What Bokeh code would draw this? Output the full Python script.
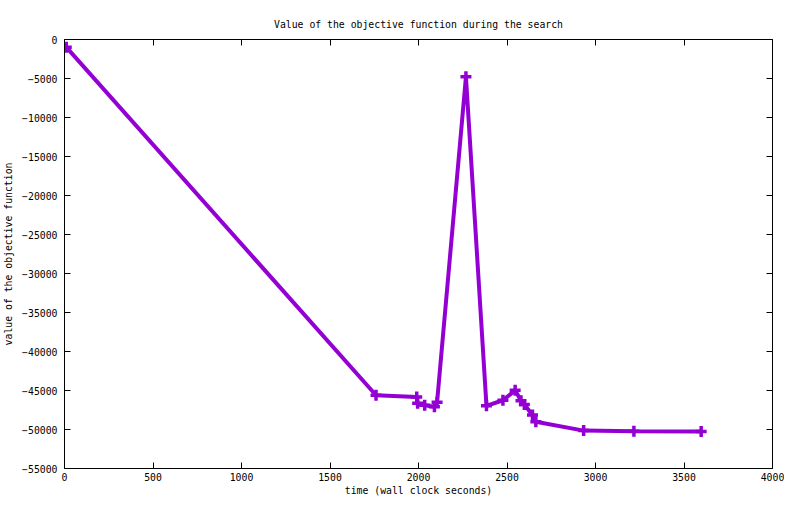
from bokeh.plotting import figure
from bokeh.models import (Range1d, LinearAxis, FixedTicker, ColumnDataSource,
                          CustomJSTickFormatter)
from bokeh.embed import file_html
from bokeh.resources import INLINE

# ---- data ----
time_s = [10, 1760, 1990, 1995, 2035, 2090, 2105, 2268, 2384, 2477, 2546,
          2579, 2598, 2644, 2663, 2933, 3217, 3597]
objective = [-980, -45610, -45830, -46650, -46880, -47090, -46500, -4790,
             -46970, -46250, -44980, -46300, -46800, -48150, -49000,
             -50140, -50230, -50270]
x_ticks = [0, 500, 1000, 1500, 2000, 2500, 3000, 3500, 4000]
y_ticks = [0, -5000, -10000, -15000, -20000, -25000, -30000, -35000,
           -40000, -45000, -50000, -55000]

FONT = "DejaVu Sans Mono"
FSIZE = "9.8px"
COLOR = "#9400D3"

src = ColumnDataSource(dict(x=time_s, y=objective))

p = figure(width=784, height=498, output_backend="svg", toolbar_location=None,
           x_range=Range1d(0, 4000), y_range=Range1d(-55000, 0),
           min_border_left=64, min_border_right=12, min_border_top=39,
           min_border_bottom=30)

p.title.text = "Value of the objective function during the search"
p.title.align = "center"
p.title.text_font = FONT
p.title.text_font_size = FSIZE
p.title.text_font_style = "normal"
p.title.text_color = "black"
p.title.standoff = 19

p.xgrid.visible = False
p.ygrid.visible = False
p.outline_line_color = None
p.background_fill_color = "white"
p.border_fill_color = "white"

def style_axis(ax, labels=True):
    ax.axis_line_color = "black"
    ax.axis_line_width = 1
    ax.major_tick_line_color = "black"
    ax.major_tick_in = 6
    ax.major_tick_out = 0
    ax.minor_tick_line_color = None
    ax.major_label_text_font = FONT
    ax.major_label_text_font_size = FSIZE
    ax.major_label_text_color = "black"
    ax.axis_label_text_font = FONT
    ax.axis_label_text_font_size = FSIZE
    ax.axis_label_text_font_style = "normal"
    ax.axis_label_text_color = "black"
    if not labels:
        ax.formatter = CustomJSTickFormatter(code="return ''")
        ax.major_label_standoff = 0

xa = p.xaxis[0]
xa.ticker = FixedTicker(ticks=x_ticks)
xa.axis_label = "time (wall clock seconds)"
style_axis(xa)
xa.major_label_standoff = 4
xa.axis_label_standoff = 1

ya = p.yaxis[0]
ya.ticker = FixedTicker(ticks=y_ticks)
ya.axis_label = "value of the objective function"
style_axis(ya)
ya.major_label_standoff = 7
ya.axis_label_standoff = 5

top = LinearAxis(ticker=FixedTicker(ticks=x_ticks))
style_axis(top, labels=False)
p.add_layout(top, "above")

right = LinearAxis(ticker=FixedTicker(ticks=y_ticks))
style_axis(right, labels=False)
p.add_layout(right, "right")

p.line("x", "y", source=src, line_color=COLOR, line_width=4)
p.scatter("x", "y", source=src, marker="cross", size=11, line_color=COLOR,
          line_width=3.5)

open("out.html", "w").write(file_html(p, INLINE))
